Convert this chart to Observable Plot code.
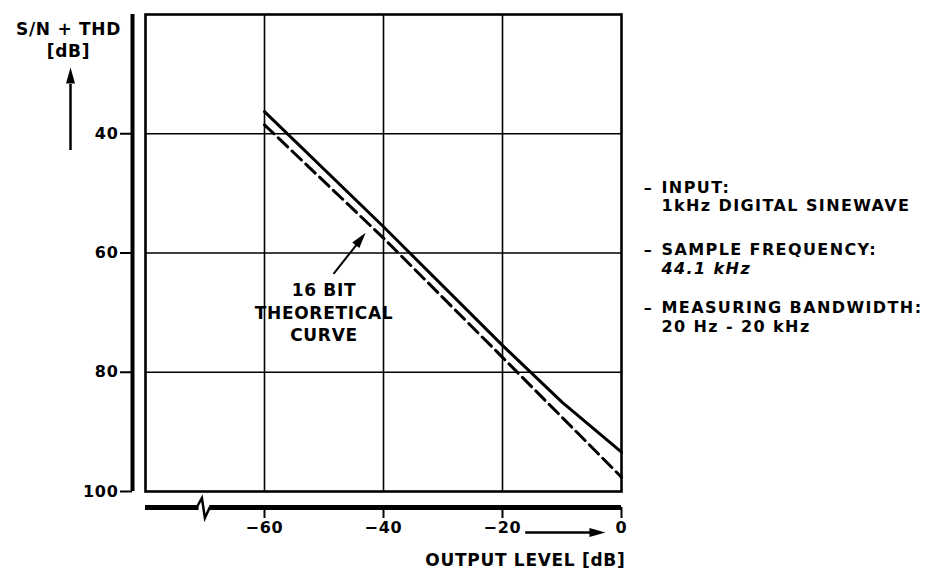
<!DOCTYPE html>
<html><head><meta charset="utf-8">
<script src="https://cdn.jsdelivr.net/npm/d3@7"></script>
<script src="https://cdn.jsdelivr.net/npm/@observablehq/plot@0.6"></script>
<style>
html,body{margin:0;padding:0;background:#fff;}
svg{display:block;}
svg text{letter-spacing:0.7px;}
svg g.note text{letter-spacing:1.4px;}
</style></head><body><div id="chart"></div>
<script>
// Data
const outputLevel = [-60, -40, -20, -10, 0];
const measuredSNR = [36.3, 55.6, 75.5, 85.0, 93.4];
const theoryLevel = [-60, -40, -20, 0];
const theorySNR = [38.5, 57.5, 77.5, 97.6];
const xTicks = [-60, -40, -20, 0];
const xTickLabels = ["\u221260", "\u221240", "\u221220", "0"];
const xGrid = [-60, -40, -20];
const yTicks = [40, 60, 80, 100];
const yTickLabels = ["40", "60", "80", "100"];
const yGrid = [40, 60, 80];
const noteLines = ["INPUT:", "1kHz DIGITAL SINEWAVE", "SAMPLE FREQUENCY:", "44.1 kHz", "MEASURING BANDWIDTH:", "20 Hz - 20 kHz"];

const measured = outputLevel.map((x, i) => ({x, y: measuredSNR[i]}));
const theory = theoryLevel.map((x, i) => ({x, y: theorySNR[i]}));

const F = {fontFamily: "DejaVu Sans", fontWeight: "bold", fontSize: 17, fill: "black"};
const FT = {...F, fontSize: 16};
const FN = {...F, fontSize: 16, className: "note"};
const head = {draw(ctx) { ctx.moveTo(0, 0); ctx.lineTo(4.5, 16); ctx.lineTo(-4.5, 16); ctx.closePath(); }};

const noteDy = [167, 185, 229, 248, 287, 306];
const noteMarks = noteLines.map((t, i) => Plot.text([t], {
  frameAnchor: "top-right", dx: 40, dy: noteDy[i], textAnchor: "start",
  fontStyle: i === 3 ? "italic" : "normal", ...FN
}));
const dashMarks = [167, 229, 287].map(dy => Plot.text(["\u2013"], {frameAnchor: "top-right", dx: 27, dy, textAnchor: "middle", ...FN}));

const chart = Plot.plot({
  width: 938, height: 580,
  marginLeft: 145, marginRight: 317, marginTop: 14, marginBottom: 89,
  x: {domain: [-80, 0], axis: null},
  y: {domain: [20, 100], reverse: true, axis: null},
  style: {fontFamily: "DejaVu Sans", background: "white", overflow: "visible"},
  marks: [
    Plot.ruleX(xGrid, {stroke: "black", strokeWidth: 1.6}),
    Plot.ruleY(yGrid, {stroke: "black", strokeWidth: 1.6}),
    Plot.frame({stroke: "black", strokeWidth: 2.6}),
    Plot.line(theory, {x: "x", y: "y", stroke: "black", strokeWidth: 3, strokeDasharray: "13,6"}),
    Plot.line(measured, {x: "x", y: "y", stroke: "black", strokeWidth: 3}),
    // left axis
    Plot.ruleX([-80], {dx: -13, stroke: "black", strokeWidth: 4}),
    Plot.ruleY(yTicks, {insetLeft: -25, insetRight: 489, stroke: "black", strokeWidth: 2}),
    Plot.text(yTicks, {y: d => d, frameAnchor: "left", dx: -27, textAnchor: "end", text: (d, i) => yTickLabels[i], ...FT}),
    Plot.text(["S/N + THD"], {frameAnchor: "top-left", dx: -77, dy: 8, textAnchor: "middle", ...F}),
    Plot.text(["[dB]"], {frameAnchor: "top-left", dx: -77, dy: 30, textAnchor: "middle", ...F}),
    Plot.ruleX([-80], {dx: -75, insetTop: 70, insetBottom: 341, stroke: "black", strokeWidth: 2.5}),
    Plot.dot([0], {frameAnchor: "top-left", dx: -75, dy: 53, symbol: head, r: 5, fill: "black", stroke: "none"}),
    // bottom axis
    Plot.ruleY([100], {x1: -80, x2: -71, dy: 16, stroke: "black", strokeWidth: 5}),
    Plot.ruleY([100], {x1: -69.2, x2: 0, dy: 16, stroke: "black", strokeWidth: 5}),
    Plot.ruleX(xTicks, {insetTop: 493, insetBottom: -27, stroke: "black", strokeWidth: 2}),
    Plot.text(xTicks, {x: d => d, frameAnchor: "bottom", dy: 41, text: (d, i) => xTickLabels[i], ...FT}),
    Plot.ruleY([100], {x1: -16.1, x2: -4.5, dy: 41, stroke: "black", strokeWidth: 2.5}),
    Plot.dot([100], {x: -2.7, y: d => d, dy: 41, symbol: head, rotate: 90, r: 5, fill: "black", stroke: "none"}),
    Plot.text(["OUTPUT LEVEL [dB]"], {frameAnchor: "bottom-right", dx: 4, dy: 74, textAnchor: "end", ...F}),
    // curve annotation
    Plot.text(["16 BIT\nTHEORETICAL\nCURVE"], {x: -50, y: 69.8, lineHeight: 1.32, ...F}),
    Plot.link([0], {x1: -48.4, y1: 63.5, x2: -44.2, y2: 58.2, stroke: "black", strokeWidth: 2}),
    Plot.dot([0], {x: -43, y: 56.6, symbol: head, rotate: 38, r: 5, fill: "black", stroke: "none"}),
    // right notes
    ...dashMarks,
    ...noteMarks
  ]
});

// axis break symbol on the bottom axis, placed through the scales
const sx = chart.scale("x"), sy = chart.scale("y");
const cx = sx.apply(-70.1), cy = sy.apply(100) + 16;
d3.select(chart).append("path")
  .attr("d", `M${cx - 7},${cy} L${cx - 2},${cy - 9} L${cx + 1},${cy + 11} L${cx + 6},${cy}`)
  .attr("fill", "none").attr("stroke", "black").attr("stroke-width", 2.5).attr("stroke-linejoin", "miter");

document.getElementById("chart").appendChild(chart);
</script></body></html>
